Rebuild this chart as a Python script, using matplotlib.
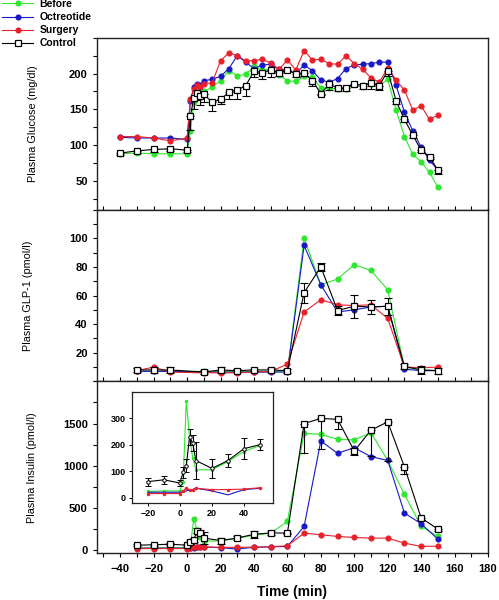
import matplotlib
matplotlib.use('Agg')
import matplotlib.pyplot as plt
from matplotlib.ticker import MultipleLocator

plt.rcParams['font.family'] = ['Liberation Sans', 'DejaVu Sans']

# colours of the four groups
c_before = '#2ee62e'
c_octreo = '#1818c8'
c_surg = '#e8202a'
c_ctrl = 'black'

# ---- glucose (mg/dl)
glu_t = [-40, -30, -20, -10, 0, 2, 4, 6, 8, 10, 15, 20, 25, 30, 35, 40, 45, 50, 55,
         60, 65, 70, 75, 80, 85, 90, 95, 100, 105, 110, 115, 120, 125, 130, 135,
         140, 145, 150]
glu_before = [88, 89, 88, 88, 88, 120, 160, 168, 170, 175, 181, 190, 204, 197, 199,
              210, 205, 206, 198, 190, 189, 196, 195, 180, 180, 178, 178, 185, 184,
              185, 183, 192, 149, 112, 87, 77, 62, 41]
glu_octreo = [111, 110, 110, 110, 108, 162, 181, 185, 184, 190, 192, 196, 207, 225,
              216, 207, 212, 213, 206, 205, 200, 212, 204, 191, 188, 193, 207, 212,
              213, 214, 216, 216, 184, 146, 120, 97, 79, 65]
glu_surg = [112, 112, 110, 106, 110, 165, 178, 184, 181, 186, 187, 218, 229, 225, 218,
            218, 220, 215, 206, 219, 205, 232, 219, 220, 214, 213, 225, 214, 206, 194,
            188, 208, 191, 177, 149, 155, 136, 142]
glu_ctrl = [89, 92, 94, 95, 93, 141, 166, 173, 168, 171, 160, 164, 174, 177, 183, 203,
            201, 205, 201, 205, 200, 201, 190, 172, 185, 180, 180, 186, 183, 187, 183,
            204, 162, 136, 114, 93, 84, 65]
glu_err = [3, 3, 3, 3, 3, 20, 15, 10, 12, 10, 12, 6, 10, 13, 14, 8, 8, 10, 5, 3,
           5, 5, 8, 2, 8, 4, 5, 3, 4, 8, 6, 8, 5, 4, 4, 3, 3, 5]

# ---- GLP-1 (pmol/l)
glp_t = [-30, -20, -10, 10, 20, 30, 40, 50, 60, 70, 80, 90, 100, 110, 120, 130, 140, 150]
glp_before = [7, 7, 7, 7, 7, 7, 7, 7, 7, 100, 67.5, 71.5, 81.5, 77.5, 64, 10, 8, 7.5]
glp_octreo = [7, 7, 7, 6.5, 6.5, 6.5, 6.5, 6.5, 6.5, 95, 67.5, 48.5, 50, 52, 52.5, 8.5, 7.5, 7.5]
glp_surg = [7.5, 10, 6.5, 6, 6, 6, 6.5, 7, 12, 48.5, 57, 53.5, 53, 53.5, 44, 10, 9.5, 10]
glp_ctrl = [8, 8, 8, 6.5, 8, 7.5, 8, 8, 7.5, 62, 80, 49.5, 52.5, 52, 52.5, 10.5, 8, 7.5]
glp_err = [1.5, 2, 2, 1.5, 2, 1, 1, 1.5, 1.5, 7, 3, 3, 8, 5, 6, 1.5, 3, 2]

# ---- insulin (pmol/l)
ins_t = [-30, -20, -10, 0, 2, 4, 6, 8, 10, 20, 30, 40, 50, 60, 70, 80, 90, 100, 110,
         120, 130, 140, 150]
ins_before = [20, 23, 25, 25, 60, 365, 230, 150, 105, 105, 136, 174, 197, 338, 1385,
              1370, 1313, 1305, 1392, 1062, 660, 278, 159]
ins_octreo = [20, 20, 20, 20, 22, 25, 28, 30, 35, 25, 10, 30, 35, 40, 278, 1293, 1146,
              1213, 1106, 1062, 437, 310, 127]
ins_surg = [15, 15, 15, 15, 25, 35, 30, 30, 35, 30, 30, 32, 37, 48, 199, 179, 159, 147,
            139, 139, 80, 40, 44]
ins_ctrl = [55, 60, 67, 55, 95, 120, 228, 205, 140, 110, 140, 185, 200, 200, 1500, 1560,
            1550, 1175, 1420, 1520, 985, 378, 246]
ins_err_lo = [10, 15, 15, 12, 20, 25, 30, 30, 70, 35, 25, 40, 20, 10, 350, 360, 110, 50,
              300, 470, 80, 20, 20]
ins_err_hi = [10, 15, 15, 12, 20, 25, 30, 30, 70, 35, 25, 40, 20, 0, 0, 0, 0, 40, 0,
              0, 0, 0, 0]

fig = plt.figure(figsize=(4.99, 6.0), dpi=100)
gs = fig.add_gridspec(3, 1, left=0.194, right=0.978, top=0.937, bottom=0.078, hspace=0)
ax1 = fig.add_subplot(gs[0])
ax2 = fig.add_subplot(gs[1], sharex=ax1)
ax3 = fig.add_subplot(gs[2], sharex=ax1)

tick_font = {'family': 'Liberation Sans', 'weight': 'bold', 'size': 8}


def draw_panel(ax, t, before, octreo, surg, ctrl, lo, hi, ms=3.4):
    lines = []
    lines += ax.plot(t, before, '-o', color=c_before, ms=ms, lw=0.8, label='Before')
    lines += ax.plot(t, octreo, '-o', color=c_octreo, ms=ms, lw=0.8, label='Octreotide')
    lines += ax.plot(t, surg, '-o', color=c_surg, ms=ms, lw=0.8, label='Surgery')
    ax.errorbar(t, ctrl, yerr=[lo, hi], fmt='none', ecolor='black', elinewidth=0.8,
                capsize=3, capthick=0.8, zorder=4)
    lines += ax.plot(t, ctrl, '-s', color=c_ctrl, mfc='white', mec='black', mew=0.9,
                     ms=4.5, lw=0.8, label='Control', zorder=5)
    return lines


handles = draw_panel(ax1, glu_t, glu_before, glu_octreo, glu_surg, glu_ctrl,
                     glu_err, [0] * len(glu_err))
draw_panel(ax2, glp_t, glp_before, glp_octreo, glp_surg, glp_ctrl, glp_err, glp_err)
draw_panel(ax3, ins_t, ins_before, ins_octreo, ins_surg, ins_ctrl, ins_err_lo, ins_err_hi)

ax1.set_ylim(10, 250)
ax1.yaxis.set_minor_locator(MultipleLocator(25))
ax1.set_yticks([50, 100, 150, 200])
ax2.set_ylim(0, 120)
ax2.set_yticks([20, 40, 60, 80, 100])
ax2.yaxis.set_minor_locator(MultipleLocator(10))
ax3.set_ylim(-40, 2000)
ax3.set_yticks([0, 500, 1000, 1500])
ax3.yaxis.set_minor_locator(MultipleLocator(250))

ax1.set_xlim(-54, 180)
ax1.xaxis.set_major_locator(MultipleLocator(20))
ax1.xaxis.set_minor_locator(MultipleLocator(10))

for ax in (ax1, ax2, ax3):
    for s in ax.spines.values():
        s.set_linewidth(1.0)
        s.set_color('#222222')
    ax.tick_params(axis='y', which='both', direction='out', length=3, width=0.8)
    ax.tick_params(axis='x', which='both', direction='in', length=3, width=0.8)
    for lab in ax.get_yticklabels():
        lab.set_fontproperties(tick_font)
for ax in (ax1, ax2):
    ax.tick_params(axis='x', labelbottom=False)
ax3.set_xticks([-40, -20, 0, 20, 40, 60, 80, 100, 120, 140, 160, 180])
ax3.tick_params(axis='x', which='both', direction='out', length=3, pad=5)
for lab in ax3.get_xticklabels():
    lab.set_fontproperties(tick_font)

ax1.set_ylabel('Plasma Glucose (mg/dl)', fontsize=7.8)
ax2.set_ylabel('Plasma GLP-1 (pmol/l)', fontsize=7.8)
ax3.set_ylabel('Plasma Insulin (pmol/l)', fontsize=7.8)
ax1.yaxis.set_label_coords(-0.151, 0.5)
ax2.yaxis.set_label_coords(-0.164, 0.5)
ax3.yaxis.set_label_coords(-0.153, 0.5)
ax3.set_xlabel('Time (min)', fontsize=10, fontweight='bold', labelpad=8)

# inset with the first 50 min of insulin
axi = fig.add_axes([0.264, 0.162, 0.283, 0.185])
n0 = ins_t.index(-20)
n1 = ins_t.index(50) + 1
ti = ins_t[n0:n1]
axi.plot(ti, ins_before[n0:n1], '-o', color=c_before, ms=1.5, lw=0.8)
axi.plot(ti, ins_octreo[n0:n1], '-', color=c_octreo, lw=0.8)
axi.plot(ti, ins_surg[n0:n1], '-o', color=c_surg, ms=1.5, lw=0.8)
axi.errorbar(ti, ins_ctrl[n0:n1], yerr=ins_err_lo[n0:n1], fmt='-o', color='black',
             mfc='white', mec='black', ms=2.5, mew=0.7, lw=0.8, elinewidth=0.8,
             capsize=2, capthick=0.8)
axi.set_xlim(-30, 58)
axi.set_ylim(-20, 400)
axi.set_xticks([-20, 0, 20, 40])
axi.set_yticks([0, 100, 200, 300])
axi.tick_params(direction='out', length=2.5, width=0.7, pad=2)
for s in axi.spines.values():
    s.set_linewidth(0.9)
    s.set_color('#222222')
inset_font = {'family': 'Liberation Sans', 'weight': 'bold', 'size': 6.5}
for lab in axi.get_xticklabels() + axi.get_yticklabels():
    lab.set_fontproperties(inset_font)

fig.legend(handles, ['Before', 'Octreotide', 'Surgery', 'Control'], loc='upper left',
           bbox_to_anchor=(0.0, 1.005), frameon=False,
           prop={'family': 'Liberation Sans', 'weight': 'bold', 'size': 7.5},
           handlelength=3.0, handletextpad=0.6, labelspacing=0.3,
           borderaxespad=0, borderpad=0.2)

fig.savefig('out.png', dpi=100)
